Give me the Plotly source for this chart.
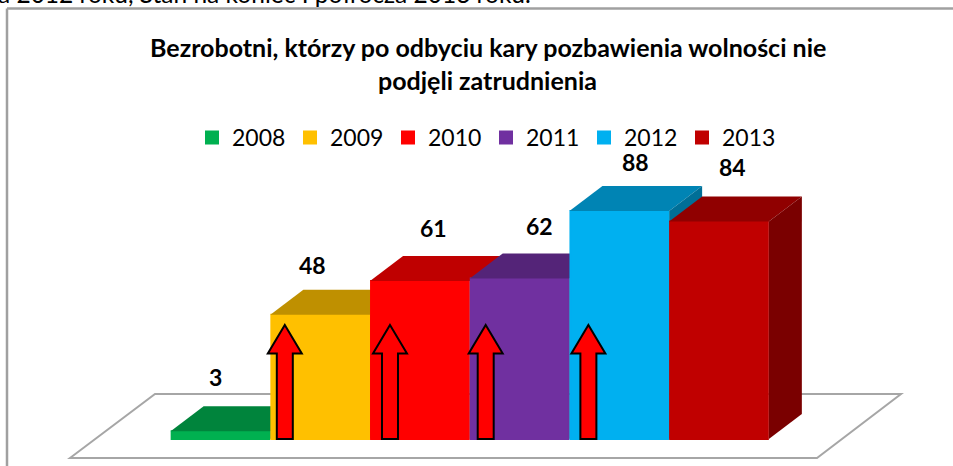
import plotly.graph_objects as go

years = ["2008", "2009", "2010", "2011", "2012", "2013"]
values = [3, 48, 61, 62, 88, 84]
front_colors = ["#00B050", "#FFC000", "#FF0000", "#7030A0", "#00B0F0", "#C00000"]
top_colors = ["#00843C", "#BF9000", "#BF0000", "#542478", "#0084B4", "#900000"]
side_colors = ["#006F32", "#A07800", "#A00000", "#462064", "#006F97", "#7A0000"]
label_dx = [-0.055, -0.08, 0.14, 0.2, 0.165, 0.14]
label_dy = [11.2, 9.5, 10.7, 10.5, 9.4, 11.5]
arrow_bars = [0.645, 1.70, 2.66, 3.69]

W, H = 953, 466
PX_X = 99.7          # pixels per category
PX_Y = 2.59          # pixels per unit of value
X0_PX, Y0_PX = 220.5, 439.0
x_range = [-X0_PX / PX_X, (W - X0_PX) / PX_X]
y_range = [(Y0_PX - H) / PX_Y, Y0_PX / PX_Y]
DEPTH_X = 33 / PX_X
DEPTH_Y = 25 / PX_Y
HALF = 0.5

FONT = "Lato"
fig = go.Figure()
layout_axes = {}
annotations = []

for i, (year, v) in enumerate(zip(years, values)):
    n = "" if i == 0 else str(i + 1)
    xa, ya = "x" + n, "y" + n
    ax_x = dict(range=x_range, visible=False, fixedrange=True)
    ax_y = dict(range=y_range, visible=False, fixedrange=True)
    if i:
        ax_x["overlaying"] = "x"
        ax_y["overlaying"] = "y"
    layout_axes["xaxis" + n] = ax_x
    layout_axes["yaxis" + n] = ax_y
    fig.add_trace(go.Bar(x=[i], y=[v], width=[1 - 2 / PX_X], name=year, xaxis=xa, yaxis=ya,
                         marker=dict(color=front_colors[i], line=dict(width=2, color=front_colors[i]))))
    l, r = i - HALF, i + HALF
    fig.add_trace(go.Scatter(
        x=[l, r, r + DEPTH_X, l + DEPTH_X, l], y=[v, v, v + DEPTH_Y, v + DEPTH_Y, v],
        mode="lines", fill="toself", fillcolor=top_colors[i], line=dict(width=0),
        showlegend=False, hoverinfo="skip", xaxis=xa, yaxis=ya))
    fig.add_trace(go.Scatter(
        x=[r, r + DEPTH_X, r + DEPTH_X, r, r], y=[0, DEPTH_Y, v + DEPTH_Y, v, 0],
        mode="lines", fill="toself", fillcolor=side_colors[i], line=dict(width=0),
        showlegend=False, hoverinfo="skip", xaxis=xa, yaxis=ya))
    annotations.append(dict(x=i + label_dx[i], y=v + DEPTH_Y + label_dy[i], xref="x", yref="y",
                            text=str(v), showarrow=False,
                            font=dict(family=FONT, size=23, color="#000000", weight="bold")))

floor_path = "M{},{} L{},{} L{},{} L{},{} Z".format(
    (70 - X0_PX) / PX_X, (Y0_PX - 458) / PX_Y,
    (155 - X0_PX) / PX_X, (Y0_PX - 394) / PX_Y,
    (901 - X0_PX) / PX_X, (Y0_PX - 394) / PX_Y,
    (817 - X0_PX) / PX_X, (Y0_PX - 458) / PX_Y)
shapes = [dict(type="path", path=floor_path, xref="x", yref="y", layer="below",
               fillcolor="#FFFFFF", line=dict(color="#A6A6A6", width=2))]

# Hand-drawn upward arrows lying over the bars
tip, neck = 44.0, 33.0
hw, sw = 17 / PX_X, 8 / PX_X
for c in arrow_bars:
    path = "M{},{} L{},{} L{},{} L{},{} L{},{} L{},{} L{},{} Z".format(
        c, tip, c + hw, neck, c + sw, neck, c + sw, 0, c - sw, 0, c - sw, neck, c - hw, neck)
    shapes.append(dict(type="path", path=path, xref="x", yref="y", layer="above",
                       fillcolor="#FF0000", line=dict(color="#000000", width=2)))

# Chart frame: left and top edges, the others fall outside the crop
shapes.append(dict(type="line", xref="paper", yref="paper", x0=7 / W, x1=7 / W, y0=0, y1=1 - 8.5 / H,
                   line=dict(color="#A0A0A0", width=2.5)))
shapes.append(dict(type="line", xref="paper", yref="paper", x0=7 / W, x1=1, y0=1 - 8.5 / H, y1=1 - 8.5 / H,
                   line=dict(color="#A0A0A0", width=2.5)))

annotations.append(dict(x=488 / W, y=1 - 47 / H, xref="paper", yref="paper", showarrow=False,
                        yanchor="middle",
                        text="Bezrobotni, którzy po odbyciu kary pozbawienia wolności nie",
                        font=dict(family=FONT, size=25, color="#000000", weight="bold")))
annotations.append(dict(x=488 / W, y=1 - 80 / H, xref="paper", yref="paper", showarrow=False,
                        yanchor="middle",
                        text="podjęli zatrudnienia",
                        font=dict(family=FONT, size=25, color="#000000", weight="bold")))
annotations.append(dict(x=533 / W, y=1 - 10 / H, xref="paper", yref="paper", showarrow=False,
                        xanchor="right", yanchor="bottom",
                        text="a 2012 roku, Stan na koniec I półrocza 2013 roku.",
                        font=dict(family=FONT, size=24.5, color="#000000")))

fig.update_layout(
    width=W, height=H, margin=dict(l=0, r=0, t=0, b=0),
    paper_bgcolor="#FFFFFF", plot_bgcolor="rgba(0,0,0,0)",
    showlegend=True,
    legend=dict(orientation="h", x=192 / W, y=1 - 137.5 / H, xanchor="left", yanchor="middle",
                entrywidth=53, entrywidthmode="pixels", traceorder="normal",
                bgcolor="rgba(0,0,0,0)", font=dict(family=FONT, size=23, color="#000000")),
    shapes=shapes, annotations=annotations, **layout_axes)

fig.write_html("out.html", config={"displayModeBar": False},
               post_script="document.body.style.margin='0';")
